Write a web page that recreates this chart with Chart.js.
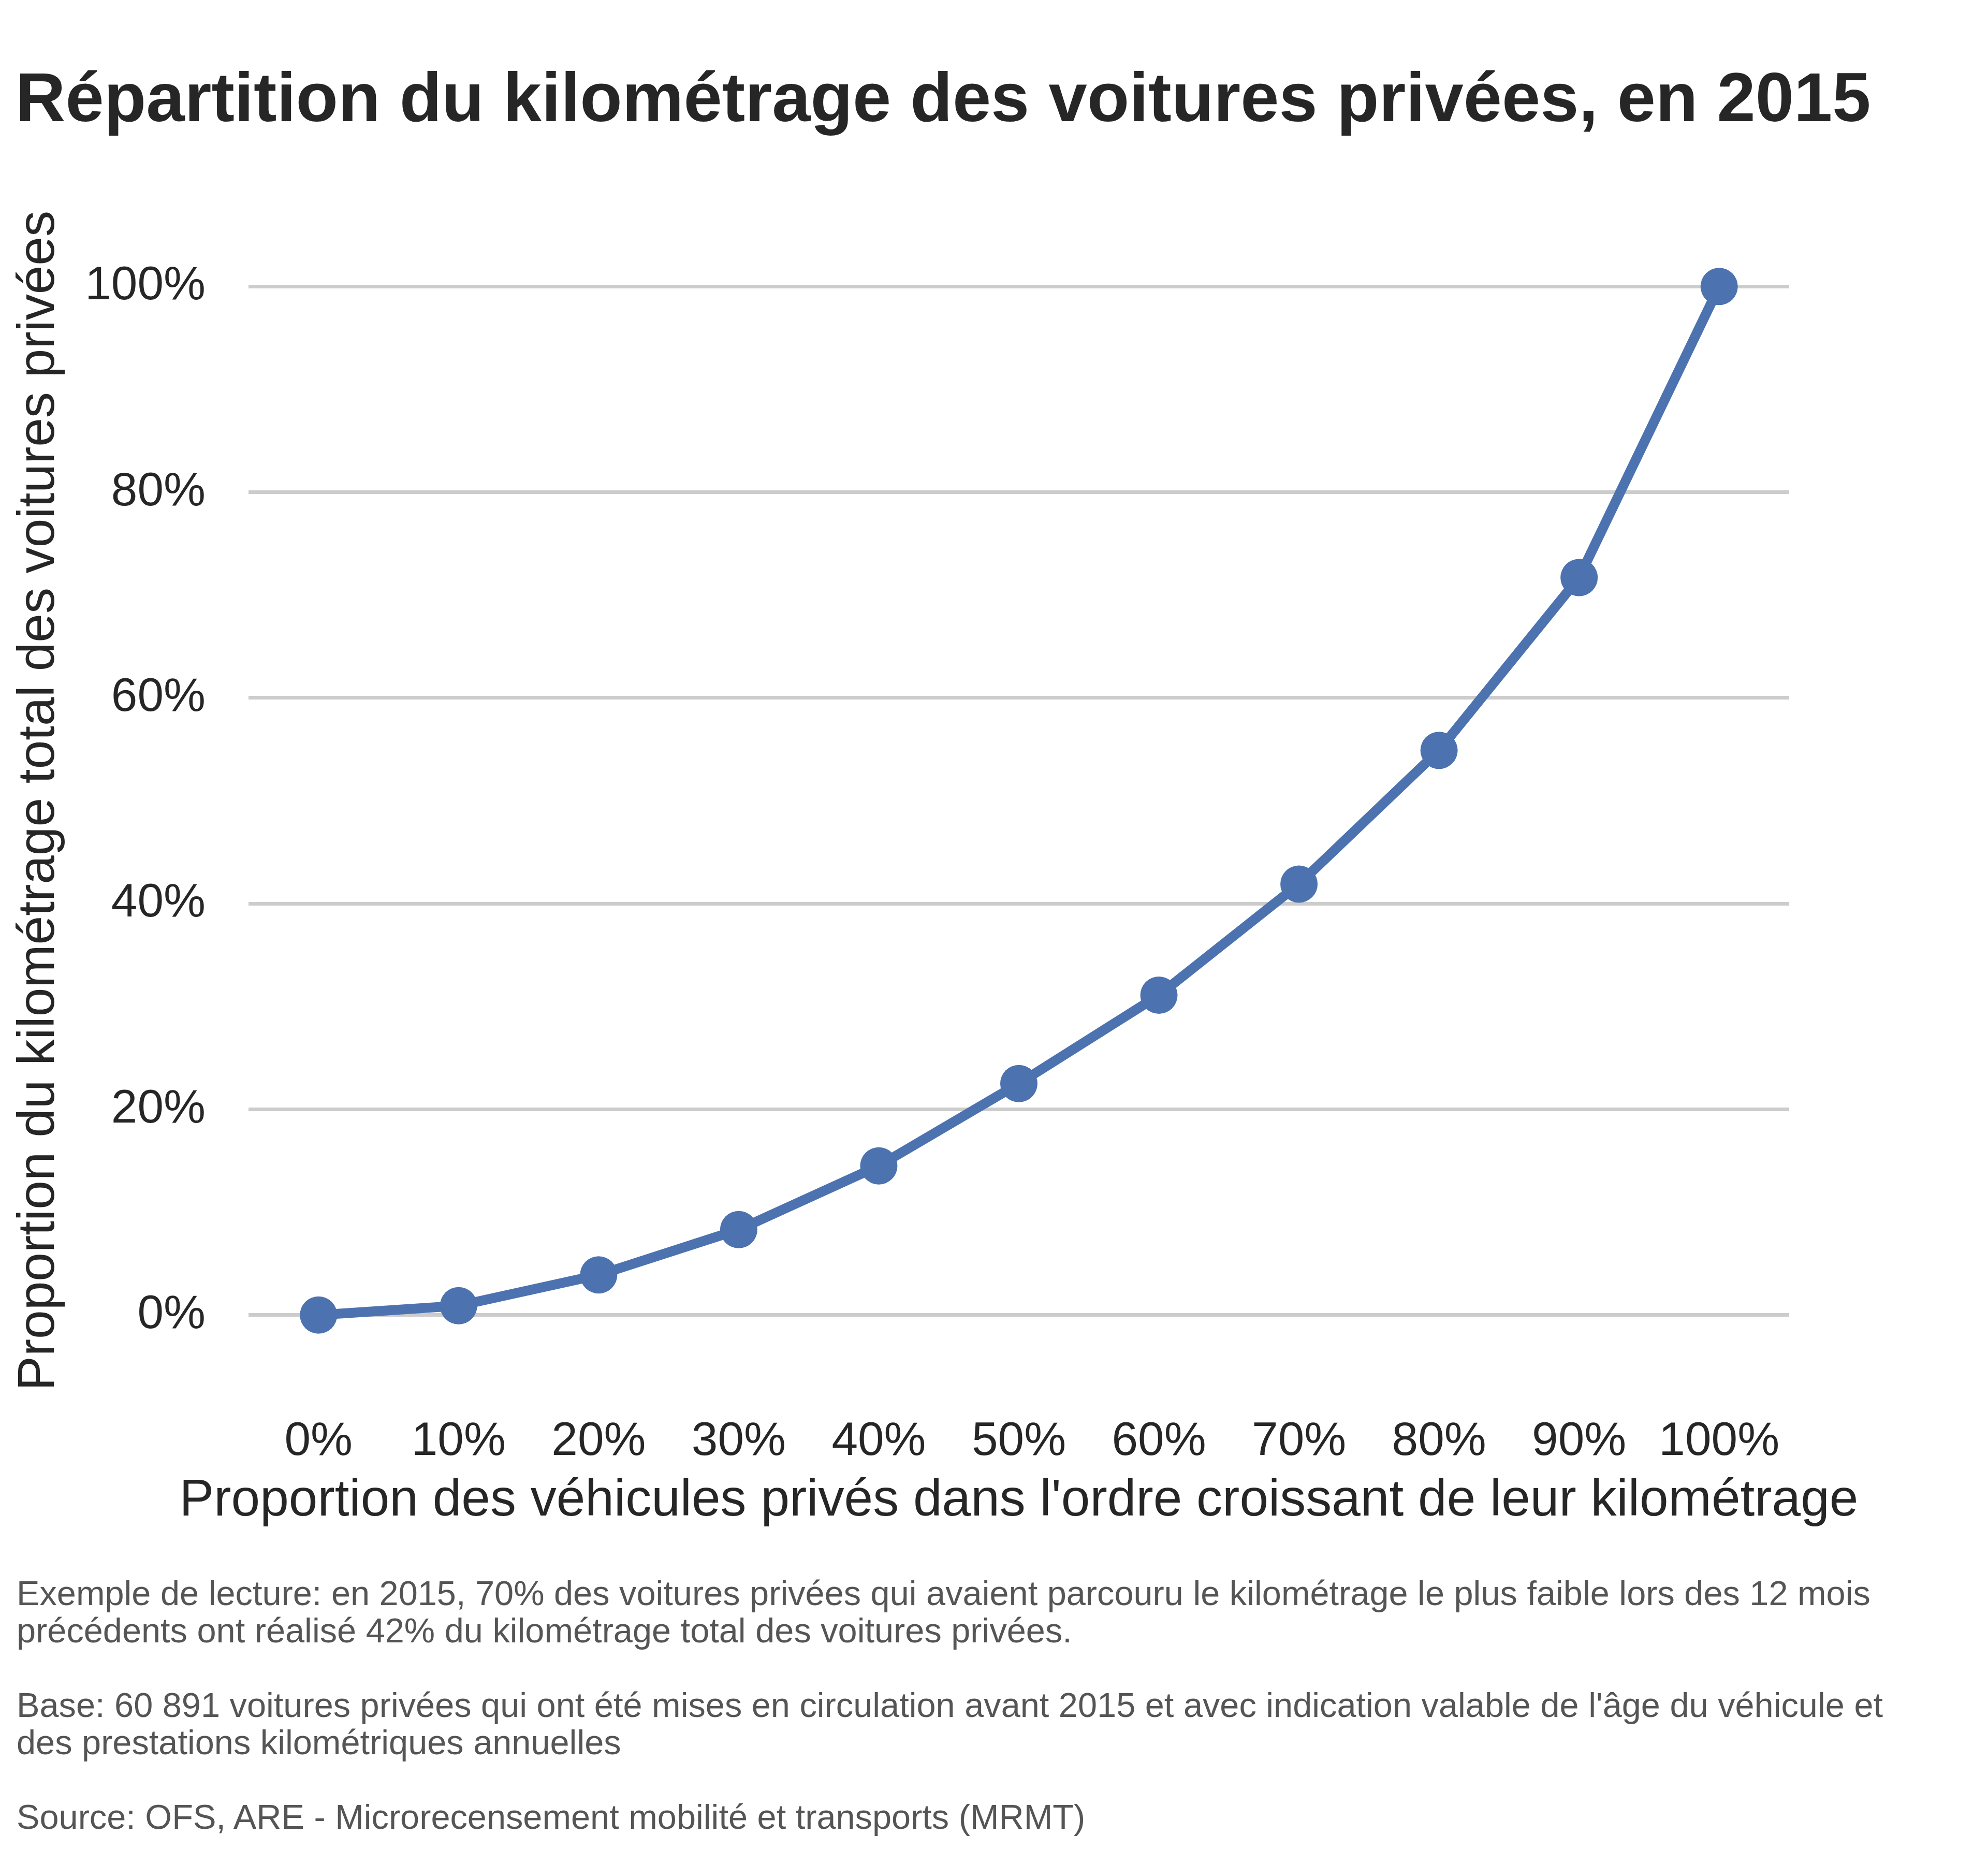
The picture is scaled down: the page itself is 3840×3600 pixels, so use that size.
<!DOCTYPE html>
<html lang="fr">
<head>
<meta charset="utf-8">
<title>Répartition du kilométrage des voitures privées, en 2015</title>
<script src="https://cdn.jsdelivr.net/npm/chart.js@4.4.1/dist/chart.umd.min.js"></script>
<style>
  html, body { margin: 0; padding: 0; background: #fff; }
  #page { position: relative; width: 3840px; height: 3600px; overflow: hidden;
          font-family: "Liberation Sans", Arial, Helvetica, sans-serif; }
  #chartBox { position: absolute; left: 0; top: 0; width: 3840px; height: 3600px; }
  #title { position: absolute; left: 30px; top: 121px; margin: 0;
           font-size: 133.5px; line-height: 133px; font-weight: bold; color: #262626; white-space: nowrap; }
  #xTitle { position: absolute; left: 1968px; top: 2832px; transform: translateX(-50%);
            font-size: 100px; line-height: 120px; color: #262626; white-space: nowrap; }
  #notes { position: absolute; left: 32px; top: 3041px; margin: 0;
           font-size: 66.7px; line-height: 72px; color: #555555; white-space: nowrap; }
</style>
</head>
<body>
<div id="page">
  <div id="chartBox"><canvas id="chart" width="3840" height="3600"></canvas></div>
  <h1 id="title">Répartition du kilométrage des voitures privées, en 2015</h1>
  <div id="xTitle"></div>
  <p id="notes">Exemple de lecture: en 2015, 70% des voitures privées qui avaient parcouru le kilométrage le plus faible lors des 12 mois<br>précédents ont réalisé 42% du kilométrage total des voitures privées.<br><br>Base: 60 891 voitures privées qui ont été mises en circulation avant 2015 et avec indication valable de l'âge du véhicule et<br>des prestations kilométriques annuelles<br><br>Source: OFS, ARE - Microrecensement mobilité et transports (MRMT)</p>
</div>
<script>
/* ---------- données ---------- */
var vehiclesPct = [0, 10, 20, 30, 40, 50, 60, 70, 80, 90, 100];          // axe x
var mileagePct  = [0, 0.9, 3.9, 8.3, 14.5, 22.5, 31.1, 41.9, 54.9, 71.7, 100]; // axe y
var yTickValues = [0, 20, 40, 60, 80, 100];

var xTitle = "Proportion des véhicules privés dans l'ordre croissant de leur kilométrage";
var yTitle = 'Proportion du kilométrage total des voitures privées';

var INK = '#262626';
var BLUE = '#4c72b0';
var FONT = "'Liberation Sans', Arial, Helvetica, sans-serif";

// titre de l'axe x en HTML : Chart.js le comprimerait à la largeur de la zone
document.getElementById('xTitle').textContent = xTitle;

var points = vehiclesPct.map(function (x, i) { return { x: x, y: mileagePct[i] }; });

function pct(v) { return Math.round(v) + '%'; }

new Chart(document.getElementById('chart'), {
  type: 'line',
  data: {
    datasets: [{
      data: points,
      borderColor: BLUE, borderWidth: 19,
      backgroundColor: BLUE,
      pointRadius: 36, pointHoverRadius: 36,
      pointBackgroundColor: BLUE, pointBorderWidth: 0,
      tension: 0, fill: false
    }]
  },
  options: {
    responsive: false, animation: false, devicePixelRatio: 1,
    layout: { padding: { left: 0, top: 454, right: 384, bottom: 648 } },
    plugins: { legend: { display: false }, tooltip: { enabled: false }, title: { display: false } },
    scales: {
      x: {
        type: 'linear', min: -5, max: 105,
        afterBuildTicks: function (s) { s.ticks = vehiclesPct.map(function (v) { return { value: v }; }); },
        afterFit: function (s) { s.height = 313; },
        grid: { display: false, drawTicks: false },
        border: { display: false },
        ticks: { autoSkip: false, maxRotation: 0, padding: 91, color: INK,
                 font: { family: FONT, size: 91 }, callback: pct },
        title: { display: false }
      },
      y: {
        type: 'linear', min: -5, max: 105,
        afterBuildTicks: function (s) { s.ticks = yTickValues.map(function (v) { return { value: v }; }); },
        afterFit: function (s) { s.width = 480; },
        grid: { color: '#cccccc', lineWidth: 7, drawTicks: false },
        border: { display: false },
        ticks: { padding: 83, color: INK, font: { family: FONT, size: 91 }, callback: pct },
        title: { display: true, text: yTitle, color: INK, padding: { top: 16, bottom: 0 },
                 font: { family: FONT, size: 100 } }
      }
    }
  }
});
</script>
</body>
</html>
